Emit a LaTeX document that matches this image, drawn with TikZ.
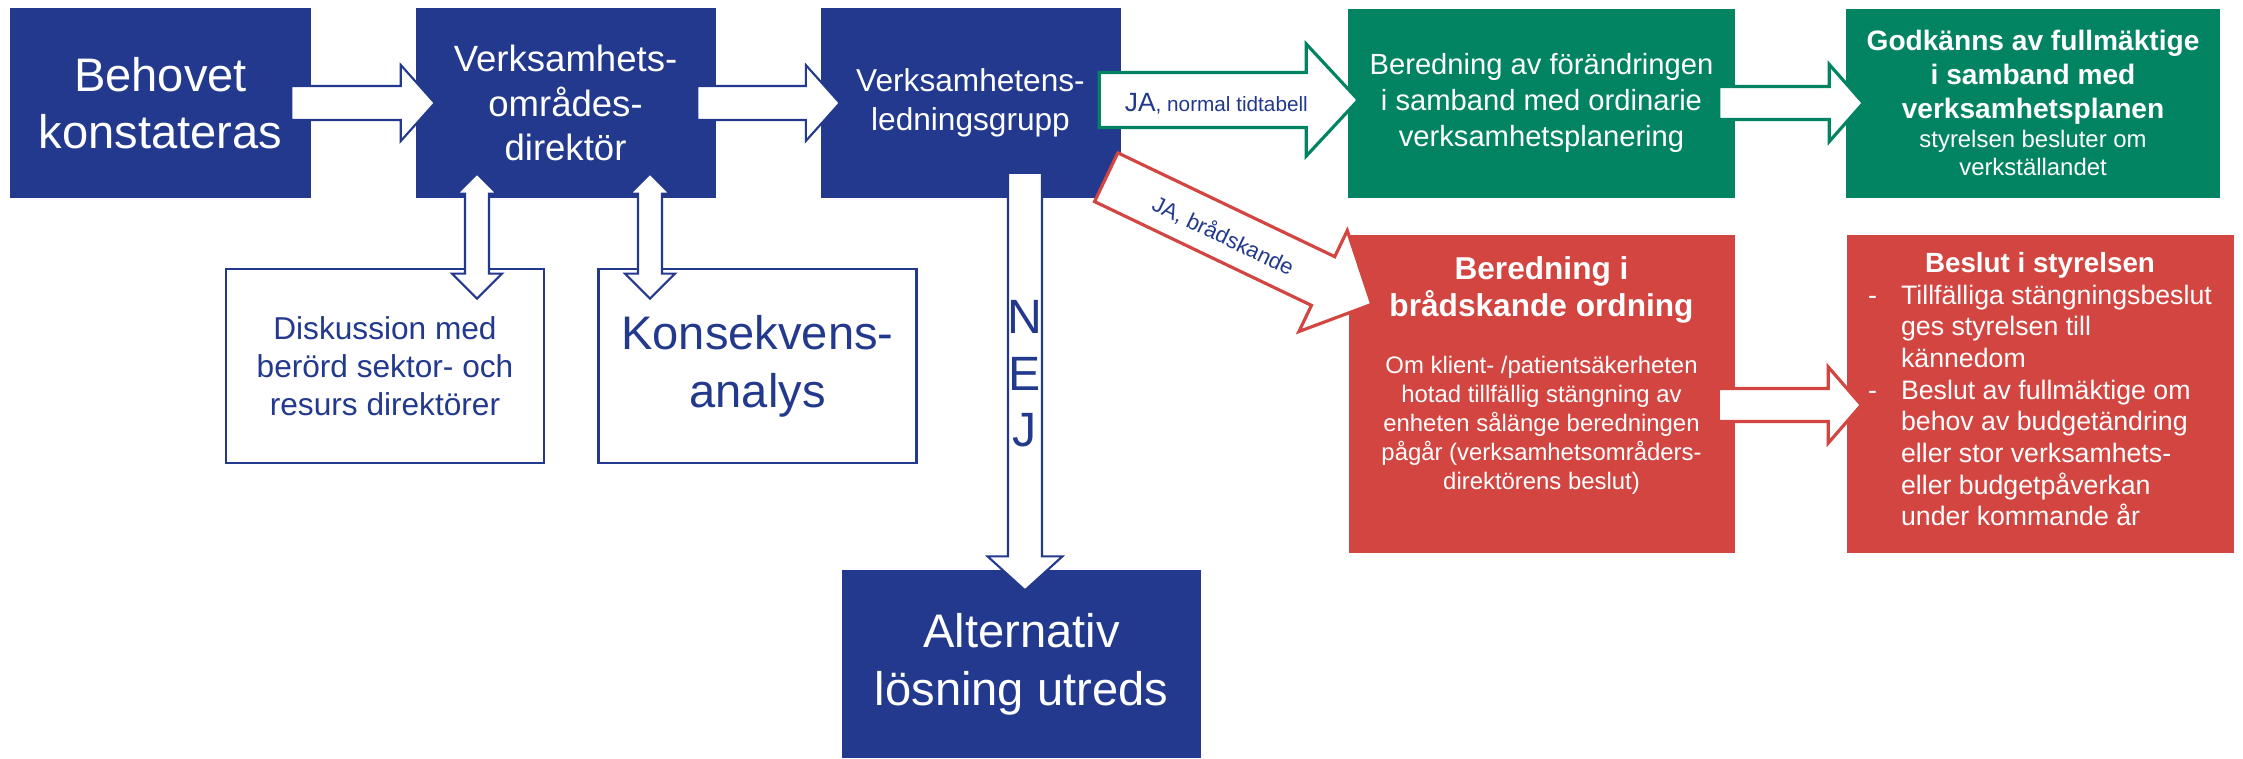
\documentclass[tikz,border=0pt]{standalone}
\usepackage{fontspec}
\setmainfont{Liberation Sans}
\usetikzlibrary{calc}
\usetikzlibrary{positioning}
\definecolor{ourblue}{RGB}{34,57,141}
\definecolor{ourgreen}{RGB}{2,132,98}
\definecolor{ourred}{RGB}{210,69,65}
% block arrow: style, start, tip, shaft half width, head half width, head length
\newcommand{\blockarr}[6]{%
  \coordinate (ba-s) at #2;
  \coordinate (ba-t) at #3;
  \coordinate (ba-h) at ($(ba-t)!#6!(ba-s)$);
  \draw[#1] ($(ba-s)!#4!90:(ba-t)$) -- ($(ba-h)!#4!90:(ba-t)$) -- ($(ba-h)!#5!90:(ba-t)$)
    -- (ba-t) -- ($(ba-h)!#5!-90:(ba-t)$) -- ($(ba-h)!#4!-90:(ba-t)$) -- ($(ba-s)!#4!-90:(ba-t)$) -- cycle;}
% double block arrow: style, tip 1, tip 2, shaft half width, head 1 size, head 2 size
\newcommand{\dblarr}[6]{%
  \coordinate (da-a) at #2;
  \coordinate (da-b) at #3;
  \coordinate (da-ha) at ($(da-a)!#5!(da-b)$);
  \coordinate (da-hb) at ($(da-b)!#6!(da-a)$);
  \draw[#1] (da-a) -- ($(da-ha)!#5!90:(da-b)$) -- ($(da-ha)!#4!90:(da-b)$) -- ($(da-hb)!#4!-90:(da-a)$)
    -- ($(da-hb)!#6!-90:(da-a)$) -- (da-b) -- ($(da-hb)!#6!90:(da-a)$) -- ($(da-hb)!#4!90:(da-a)$)
    -- ($(da-ha)!#4!-90:(da-b)$) -- ($(da-ha)!#5!-90:(da-b)$) -- cycle;}

\begin{document}
\begin{tikzpicture}[node distance=4.05cm,on grid,
    bluebox/.style={rectangle,fill=ourblue,text=white,minimum width=3cm,minimum height=1.9cm,align=center,inner sep=0pt},
    greenbox/.style={rectangle,fill=ourgreen,text=white,minimum height=1.89cm,align=flush center,inner sep=0pt},
    redbox/.style={rectangle,fill=ourred,text=white,minimum height=3.18cm,align=flush center,inner sep=0pt},
    linebox/.style={rectangle,draw=ourblue,line width=0.8pt,text=ourblue,minimum width=3.18cm,minimum height=1.94cm,align=center,inner sep=0pt},
    bluearr/.style={draw=ourblue,fill=white,line width=0.6pt},
    greenarr/.style={draw=ourgreen,fill=white,line width=0.9pt},
    redarr/.style={draw=ourred,fill=white,line width=0.9pt},
    armtext/.style={text=ourblue,inner sep=0pt}]
  \useasboundingbox (0,0) rectangle (22.43,-7.58);
  
  \node[bluebox,font=\fontsize{13.4}{16.4}\selectfont] (behov) at (1.605,-1.03) {Behovet\\konstateras};
  \node[bluebox,font=\fontsize{10.4}{12.7}\selectfont] (vod) [right=of behov] {Verksamhets-\\områdes-\\direktör};
  \node[bluebox,font=\fontsize{9}{11.1}\selectfont] (ledn) [right=of vod] {Verksamhetens-\\ledningsgrupp};
  \node[greenbox,minimum width=3.87cm,font=\fontsize{8.3}{10.2}\selectfont] (ordin) [right=of ledn,xshift=1.66cm]
    {Beredning av förändringen\\i samband med ordinarie\\verksamhetsplanering};
  \node[greenbox,text width=3.74cm] (fullm) [right=of ordin,xshift=0.865cm]
    {{\bfseries\fontsize{8}{9.7}\selectfont Godkänns av fullmäktige\\i samband med\\verksamhetsplanen\par}
     {\fontsize{6.8}{8.2}\selectfont styrelsen besluter om\\verkställandet\par}};
  \node[redbox,text width=3.86cm] (bradsk) [below=of ordin,yshift=1.14cm]
    {{\bfseries\fontsize{9}{10.5}\selectfont Beredning i\\brådskande ordning\par}
     \vspace{8pt}
     {\fontsize{6.8}{8.25}\selectfont Om klient- /patientsäkerheten\\hotad tillfällig stängning av\\enheten sålänge beredningen\\pågår (verksamhetsområders-\\direktörens beslut)\par}
     \rule{0pt}{0.2cm}};
  \node[redbox,text width=3.87cm] (beslut) [right=of bradsk,xshift=0.935cm]
    {{\bfseries\fontsize{7.9}{9}\selectfont Beslut i styrelsen\par}
     {\fontsize{7.6}{9}\selectfont
      \begin{tabular}{@{}l@{\hspace{0.24cm}}l@{}}
        -&Tillfälliga stängningsbeslut\\
         &ges styrelsen till\\
         &kännedom\\
        -&Beslut av fullmäktige om\\
         &behov av budgetändring\\
         &eller stor verksamhets-\\
         &eller budgetpåverkan\\
         &under kommande år
      \end{tabular}\par}};
  \node[linebox,font=\fontsize{9}{10.8}\selectfont] (disk) [below=of vod,xshift=-1.805cm,yshift=1.42cm]
    {Diskussion med\\berörd sektor- och\\resurs direktörer};
  \node[linebox,font=\fontsize{13.4}{16.4}\selectfont] (konsek) [right=of disk,xshift=-0.325cm] {Konsekvens-\\analys};
  \node[bluebox,minimum width=3.59cm,minimum height=1.88cm,font=\fontsize{13.4}{16.4}\selectfont] (altern)
    [below=of ledn,xshift=0.51cm,yshift=-1.56cm] {Alternativ\\lösning utreds};
  
  % arrows
  \blockarr{bluearr}{($(behov.east)+(-0.2,0)$)}{($(vod.west)+(0.2,0)$)}{0.17cm}{0.38cm}{0.34cm}
  \blockarr{bluearr}{($(vod.east)+(-0.19,0)$)}{($(ledn.west)+(0.2,0)$)}{0.17cm}{0.38cm}{0.34cm}
  \blockarr{greenarr}{($(ledn.east)+(-0.22,0.03)$)}{($(ordin.west)+(0.11,0.03)$)}{0.275cm}{0.56cm}{0.52cm}
  \node[armtext,anchor=base west] (janorm) at ($(ledn.east)+(0.03,-0.08)$)
    {{\fontsize{7.5}{9}\selectfont JA}{\fontsize{5.9}{7}\selectfont, normal tidtabell}};
  \blockarr{greenarr}{($(ordin.east)+(-0.17,0)$)}{($(fullm.west)+(0.18,0)$)}{0.165cm}{0.385cm}{0.34cm}
  \blockarr{redarr}{($(ledn.south east)+(-0.15,0.215)$)}{($(bradsk.north west)+(0.24,-0.70)$)}{0.27cm}{0.56cm}{0.54cm}
  \node[armtext,rotate=-25.7,font=\fontsize{6.3}{7.5}\selectfont] (jabrad) at ($(ba-s)!0.44!(ba-t)+(0,-0.03)$) {JA, brådskande};
  \blockarr{redarr}{($(bradsk.east)+(-0.17,-0.11)$)}{($(beslut.west)+(0.155,-0.11)$)}{0.165cm}{0.38cm}{0.33cm}
  \blockarr{bluearr}{($(ledn.south)+(0.545,0.26)$)}{($(altern.north)+(0.035,-0.21)$)}{0.17cm}{0.375cm}{0.34cm}
  \node[armtext,align=center,font=\fontsize{13.7}{16.2}\selectfont] (nej) at ($(ledn.south)+(0.545,-1.75)$) {N\\E\\J};
  \dblarr{bluearr}{($(vod.south)+(-0.885,0.25)$)}{($(disk.north)+(0.92,-0.31)$)}{0.12cm}{0.2cm}{0.25cm}
  \dblarr{bluearr}{($(vod.south)+(0.845,0.25)$)}{($(konsek.north)+(-1.075,-0.31)$)}{0.12cm}{0.2cm}{0.25cm}
\end{tikzpicture}
\end{document}
